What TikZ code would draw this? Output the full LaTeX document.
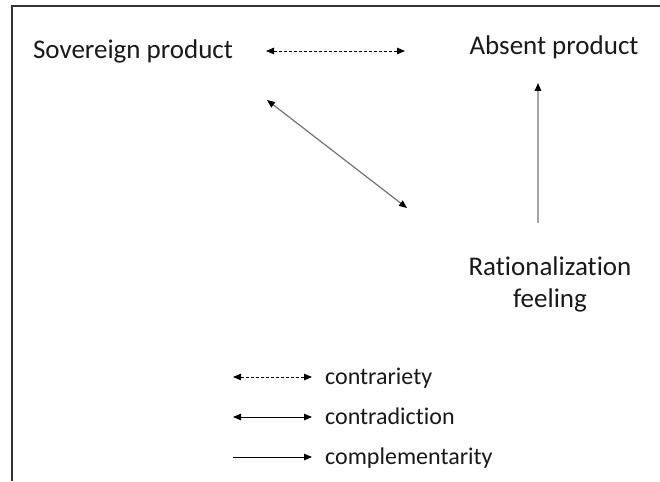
\documentclass[tikz,border=0pt]{standalone}
\usepackage{fontspec}
\setmainfont{Carlito}[Ligatures=NoCommon]
\usetikzlibrary{arrows.meta}
\tikzset{
  lbl/.style={font=\fontsize{27}{32}\selectfont, inner sep=0pt, text=black!90},
  leg/.style={font=\fontsize{24}{28}\selectfont, inner sep=0pt, anchor=base west, text=black!90},
  hd/.style={Triangle[length=8pt,width=6.5pt,color=black]},
  tip/.style={-{Triangle[length=8pt,width=6.5pt,color=black]}},
  both/.style={{Triangle[length=8pt,width=6.5pt,color=black]}-{Triangle[length=8pt,width=6.5pt,color=black]}},
  grayline/.style={draw=black!55, line width=1.2pt},
  lightline/.style={draw=black!35, line width=1.5pt},
  blk/.style={draw=black, line width=0.9pt}
}
\begin{document}
\begin{tikzpicture}[x=1pt,y=-1pt]
\useasboundingbox (0,0) rectangle (660,481);
\fill[white] (0,0) rectangle (660,481);
\coordinate (tl) at (12,6);
\coordinate (tr) at (660,6);
\coordinate (bl) at (12,481);
\draw[line width=1.4pt, black!80] (tr) -- (tl) -- (bl);

\node[lbl, anchor=base] (sov) at (133,59) {Sovereign product};
\node[lbl, anchor=base] (abs) at (554,55) {Absent product};
\node[lbl, align=center] (rat) at (550,284) {Rationalization\\feeling};

\coordinate (d1) at (266,51);
\coordinate (d2) at (405,51);
\draw[blk, dash pattern=on 3pt off 2pt, both] (d1) -- (d2);

\coordinate (x1) at (267,100);
\coordinate (x2) at (407,208);
\draw[grayline, both] (x1) -- (x2);

\coordinate (v1) at (538,223);
\coordinate (v2) at (538,83);
\draw[lightline, tip] (v1) -- (v2);

\coordinate (l1a) at (233,377);
\coordinate (l1b) at (312,377);
\coordinate (l2a) at (233,417);
\coordinate (l2b) at (312,417);
\coordinate (l3a) at (233,457);
\coordinate (l3b) at (312,457);
\draw[blk, dash pattern=on 3pt off 2pt, both] (l1a) -- (l1b);
\draw[blk, both] (l2a) -- (l2b);
\draw[blk, tip] (l3a) -- (l3b);
\node[leg] (t1) at (325,384) {contrariety};
\node[leg] (t2) at (325,424) {contradiction};
\node[leg] (t3) at (325,464) {complementarity};
\end{tikzpicture}
\end{document}
